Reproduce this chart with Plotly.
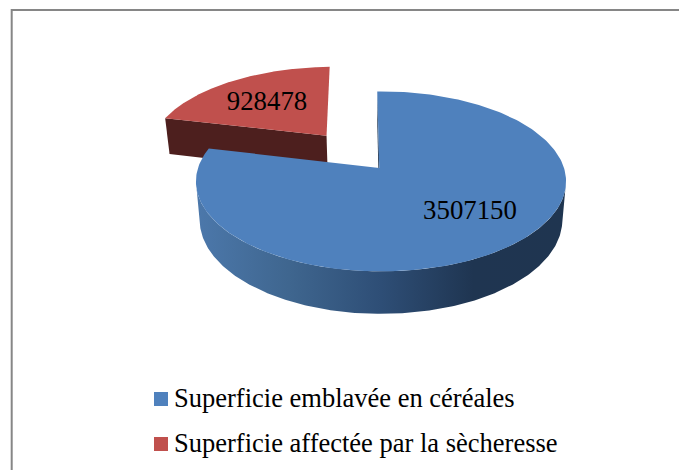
import numpy as np
import plotly.graph_objects as go

# --- data -------------------------------------------------------------
categories = ["Superficie emblavée en céréales", "Superficie affectée par la sècheresse"]
values = [3507150, 928478]
value_labels = ["3507150", "928478"]

# --- styling / layout constants (pixels of the 679x470 canvas) --------
top_colors = ["#4f81bd", "#c0504d"]
red_wall = "#4d1f1e"
blue_edge = "#1f3550"
frame = "#868686"
FONT = "Liberation Serif"
W, H = 679, 470
CX = 381.0
K = 0.149
TOP = dict(y0=168.0, a=88.0, b=183.0)
BOT = dict(y0=206.0, a=91.8, b=179.3)
START = -1.35         # first slice angle, degrees clockwise from north
APEX_V = -0.0095      # perspective nudge of the blue slice's inner corner
EXPLODE = 0.5
label_xy = [(470, 212), (267, 103)]
legend_marker_x = 161
legend_text_x = 174
legend_marker_y = [399, 444]
legend_text_y = [400, 445]

def project(u, v, plane):
    den = 1 + K * u
    return CX + plane["b"] * v / den, plane["y0"] - plane["a"] * u / den

total = sum(values)
sweep = [360 * v / total for v in values]
b0, b1 = START, START + sweep[0]
r0, r1 = b1, b1 + sweep[1]
mid = np.radians((r0 + r1) / 2)
eu, ev = EXPLODE * np.cos(mid), EXPLODE * np.sin(mid)

def arc(t0, t1, n=240):
    t = np.radians(np.linspace(t0, t1, n))
    return np.cos(t), np.sin(t)

def poly(us, vs, plane):
    return project(np.asarray(us), np.asarray(vs), plane)

fig = go.Figure()

def add_fill(x, y, color=None, gradient=None):
    kw = dict(x=np.r_[x, x[0]], y=np.r_[y, y[0]], mode="lines", fill="toself",
              line=dict(width=0), hoverinfo="skip", showlegend=False)
    if gradient:
        kw["fillgradient"] = dict(type="horizontal", colorscale=gradient)
    else:
        kw["fillcolor"] = color
    fig.add_trace(go.Scatter(**kw))

# red slice: wall towards the blue slice, then its top
tx, ty = poly([eu, np.cos(np.radians(r0)) + eu], [ev, np.sin(np.radians(r0)) + ev], TOP)
bx, by = poly([np.cos(np.radians(r0)) + eu, eu], [np.sin(np.radians(r0)) + ev, ev], BOT)
add_fill(np.r_[tx, bx], np.r_[ty, by], red_wall)
au, av = arc(r0, r1)
x, y = poly(np.r_[eu, au + eu], np.r_[ev, av + ev], TOP)
add_fill(x, y, top_colors[1])

# blue slice: cut face, outer wall with gradient, top
su, sv = np.cos(np.radians(b0)), np.sin(np.radians(b0))
tx, ty = poly([0, su], [APEX_V, sv], TOP)
bx, by = poly([su, 0], [sv, APEX_V], BOT)
add_fill(np.r_[tx, bx], np.r_[ty, by], blue_edge)

# the wall runs between the two points where each ellipse is widest
widest = np.degrees(np.arccos(-K))
au, av = arc(widest, 360 - widest)
tx, ty = poly(au, av, TOP)
bx, by = poly(au[::-1], av[::-1], BOT)
add_fill(np.r_[tx, bx], np.r_[ty, by],
         gradient=[[0, "#4c78ab"], [0.25, "#3f668f"], [0.5, "#2e4e76"],
                   [0.75, "#1f3551"], [1, "#1f3550"]])

au, av = arc(b0, b1)
x, y = poly(np.r_[0, au], np.r_[APEX_V, av], TOP)
add_fill(x, y, top_colors[0])

# value labels
fig.add_trace(go.Scatter(
    x=[p[0] for p in label_xy], y=[p[1] for p in label_xy], text=value_labels,
    mode="text", textposition="middle center",
    textfont=dict(family=FONT, size=26.8, color="black"),
    hoverinfo="skip", showlegend=False))

# legend
fig.add_trace(go.Scatter(
    x=[legend_marker_x] * 2, y=legend_marker_y, mode="markers",
    marker=dict(symbol="square", size=14, color=top_colors, line=dict(width=0)),
    hoverinfo="skip", showlegend=False))
fig.add_trace(go.Scatter(
    x=[legend_text_x] * 2, y=legend_text_y, text=categories, mode="text",
    textposition="middle right",
    textfont=dict(family=FONT, size=26.5, color="black"),
    hoverinfo="skip", showlegend=False))

fig.update_layout(
    width=W, height=H, margin=dict(l=0, r=0, t=0, b=0),
    paper_bgcolor="white", plot_bgcolor="white", showlegend=False,
    xaxis=dict(range=[0, W], visible=False, fixedrange=True),
    yaxis=dict(range=[H, 0], visible=False, fixedrange=True),
    shapes=[dict(type="rect", xref="x", yref="y", x0=11.7, y0=10, x1=W + 20, y1=H + 20,
                 line=dict(color=frame, width=2), layer="below")],
)
fig.write_html("out.html", config={"displayModeBar": False},
               post_script="document.body.style.margin='0';document.body.style.overflow='hidden';")
